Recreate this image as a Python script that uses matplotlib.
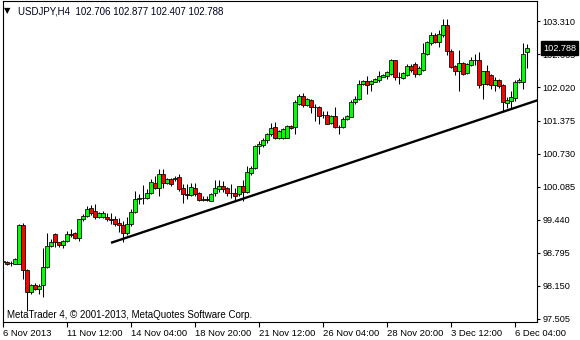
import numpy as np
import matplotlib
matplotlib.use("Agg")
import matplotlib.pyplot as plt
import matplotlib.transforms as mtransforms

# USDJPY H4 candles (oldest first)
opens = [
    98.62, 98.62, 98.60, 98.58, 98.58, 99.34, 98.46, 98.03, 98.17, 98.09,
    98.17, 98.52, 98.93, 99.17, 99.01, 98.94, 99.03, 99.17, 99.19, 99.09,
    99.45, 99.52, 99.66, 99.62, 99.49, 99.49, 99.50, 99.45, 99.45, 99.37,
    99.33, 99.18, 99.35, 99.60, 99.84, 99.86, 99.86, 99.96, 100.16, 100.06,
    100.33, 100.16, 100.23, 100.23, 100.27, 100.06, 99.94, 99.93, 100.06, 99.96,
    99.83, 99.84, 99.81, 99.96, 100.03, 100.09, 100.05, 99.96, 99.96, 99.94,
    100.09, 99.99, 100.36, 100.44, 100.88, 100.90, 100.99, 101.12, 101.24, 101.03,
    101.04, 101.04, 101.27, 101.24, 101.70, 101.86, 101.67, 101.78, 101.64, 101.64,
    101.48, 101.49, 101.32, 101.47, 101.24, 101.25, 101.40, 101.45, 101.73, 101.80,
    102.08, 102.14, 102.08, 102.12, 102.16, 102.23, 102.24, 102.29, 102.55, 102.22,
    102.20, 102.27, 102.43, 102.48, 102.29, 102.37, 102.68, 102.89, 103.04, 102.90,
    103.04, 103.24, 102.73, 102.43, 102.34, 102.50, 102.30, 102.45, 102.55, 102.55,
    102.09, 102.34, 102.26, 102.06, 102.16, 102.06, 101.71, 101.75, 101.82, 102.12,
    102.12, 102.706]
highs = [
    98.66, 98.64, 98.63, 98.70, 99.35, 99.37, 98.48, 98.19, 98.21, 98.19,
    98.88, 99.19, 99.07, 99.19, 99.01, 99.05, 99.23, 99.25, 99.21, 99.46,
    99.56, 99.70, 99.72, 99.74, 99.60, 99.62, 99.57, 99.57, 99.51, 99.47,
    99.41, 99.50, 99.64, 100.01, 99.94, 100.11, 100.03, 100.23, 100.29, 100.43,
    100.43, 100.25, 100.26, 100.29, 100.33, 100.13, 100.13, 100.15, 100.15, 99.99,
    99.90, 99.90, 99.96, 100.21, 100.21, 100.19, 100.07, 100.13, 100.06, 100.10,
    100.21, 100.49, 100.49, 100.89, 100.98, 101.04, 101.14, 101.32, 101.34, 101.19,
    101.23, 101.29, 101.29, 101.78, 101.89, 101.91, 101.82, 101.80, 101.70, 101.66,
    101.57, 101.57, 101.49, 101.63, 101.29, 101.44, 101.49, 101.78, 101.86, 102.17,
    102.17, 102.25, 102.16, 102.20, 102.34, 102.29, 102.35, 102.58, 102.56, 102.32,
    102.32, 102.47, 102.47, 102.52, 102.43, 102.88, 102.93, 103.10, 103.09, 103.14,
    103.36, 103.35, 102.77, 102.45, 102.75, 102.52, 102.49, 102.61, 102.68, 102.71,
    102.35, 102.45, 102.29, 102.22, 102.19, 102.09, 101.83, 101.96, 102.16, 102.20,
    102.88, 102.877]
lows = [
    98.56, 98.56, 98.54, 98.57, 98.57, 98.29, 97.66, 97.99, 98.07, 97.99,
    97.93, 98.50, 98.91, 98.91, 98.90, 98.88, 99.01, 99.11, 99.07, 99.03,
    99.41, 99.50, 99.54, 99.45, 99.47, 99.47, 99.41, 99.35, 99.31, 99.21,
    99.01, 99.15, 99.31, 99.57, 99.74, 99.74, 99.84, 99.94, 100.03, 99.90,
    100.06, 100.13, 100.10, 100.19, 100.00, 99.76, 99.84, 99.90, 99.90, 99.80,
    99.80, 99.80, 99.80, 99.90, 99.99, 99.98, 99.90, 99.86, 99.80, 99.90,
    99.80, 99.96, 100.32, 100.42, 100.72, 100.85, 100.94, 101.08, 101.01, 101.01,
    101.01, 101.03, 101.21, 101.11, 101.67, 101.63, 101.65, 101.53, 101.36, 101.31,
    101.43, 101.31, 101.30, 101.23, 101.12, 101.23, 101.39, 101.44, 101.70, 101.78,
    102.06, 101.89, 101.96, 102.12, 102.12, 102.22, 102.19, 102.26, 102.16, 102.09,
    102.19, 102.25, 102.32, 102.22, 102.26, 102.35, 102.65, 102.84, 102.88, 102.81,
    103.01, 102.65, 102.39, 102.26, 101.95, 102.26, 102.29, 102.43, 102.45, 102.01,
    101.80, 102.06, 101.99, 101.96, 102.01, 101.57, 101.62, 101.60, 101.76, 102.10,
    101.99, 102.407]
closes = [
    98.63, 98.58, 98.60, 98.68, 99.34, 98.46, 98.03, 98.17, 98.09, 98.15,
    98.52, 98.93, 99.01, 99.01, 98.94, 99.03, 99.17, 99.15, 99.09, 99.45,
    99.52, 99.64, 99.58, 99.49, 99.57, 99.58, 99.45, 99.44, 99.35, 99.33,
    99.18, 99.35, 99.60, 99.84, 99.86, 99.87, 99.96, 100.18, 100.06, 100.33,
    100.16, 100.23, 100.13, 100.26, 100.04, 99.94, 99.93, 100.07, 99.94, 99.83,
    99.84, 99.82, 99.94, 100.05, 100.09, 100.03, 99.96, 99.97, 99.90, 100.09,
    99.99, 100.37, 100.45, 100.88, 100.92, 101.00, 101.12, 101.23, 101.04, 101.17,
    101.21, 101.27, 101.23, 101.73, 101.86, 101.67, 101.80, 101.63, 101.63, 101.47,
    101.48, 101.31, 101.47, 101.24, 101.24, 101.40, 101.47, 101.74, 101.80, 102.08,
    102.14, 102.07, 102.14, 102.18, 102.25, 102.27, 102.33, 102.55, 102.22, 102.22,
    102.30, 102.43, 102.37, 102.29, 102.39, 102.69, 102.90, 103.04, 102.90, 103.06,
    103.24, 102.73, 102.42, 102.35, 102.50, 102.29, 102.47, 102.56, 102.55, 102.06,
    102.34, 102.09, 102.06, 102.16, 102.04, 101.73, 101.78, 101.83, 102.12, 102.16,
    102.68, 102.788]

price_ticks = [97.505, 98.150, 98.795, 99.440, 100.085, 100.730,
               101.375, 102.020, 102.665, 103.310]
time_tick_bars = [0, 16, 32, 48, 64, 80, 96, 112, 128]
time_tick_labels = ["6 Nov 2013", "11 Nov 12:00", "14 Nov 04:00", "18 Nov 20:00",
                    "21 Nov 12:00", "26 Nov 04:00", "28 Nov 20:00", "3 Dec 12:00",
                    "6 Dec 04:00"]

# hand drawn trend line (bar index, price)
trend_bars = [27, 134]
trend_prices = [98.99, 101.78]

last_price = 102.788
header = "USDJPY,H4  102.706 102.877 102.407 102.788"
copyright_txt = "MetaTrader 4, \u00a9 2001-2013, MetaQuotes Software Corp."

plt.rcParams['font.family'] = ['Liberation Sans', 'DejaVu Sans']
FS = 6.8

W, H = 580, 340
fig = plt.figure(figsize=(W / 100, H / 100), dpi=100)
fig.patch.set_facecolor('white')

# plot frame in pixels
left, right, top, bottom = 2.7, 536.5, 0.5, 321.7
ax = fig.add_axes([left / W, 1 - bottom / H, (right - left) / W, (bottom - top) / H])

# pixel -> data mapping (4 px per bar, 51.28 px per yen)
x0, px_per_bar = 3, 4
ax.set_xlim((left - x0) / px_per_bar, (right - x0) / px_per_bar)
ref_price, ref_y, px_per_unit = 103.310, 21.3, 51.28
ax.set_ylim(ref_price - (bottom - ref_y) / px_per_unit,
            ref_price + (ref_y - top) / px_per_unit)

o = np.array(opens)
h = np.array(highs)
l = np.array(lows)
c = np.array(closes)
idx = np.arange(len(o))
up = c >= o

ax.vlines(idx, l, h, color='black', linewidth=0.75, zorder=2)
body_lo = np.minimum(o, c)
body_h = np.maximum(np.abs(c - o), 0.0005)
ax.bar(idx, body_h, bottom=body_lo, width=0.8,
       color=np.where(up, '#00ff00', '#ff0000'),
       edgecolor='black', linewidth=0.55, zorder=3)

ax.plot(trend_bars, trend_prices, color='black', linewidth=1.7,
        solid_capstyle='butt', zorder=4)

# axes styling
for s in ax.spines.values():
    s.set_linewidth(0.8)
    s.set_color('black')
ax.yaxis.tick_right()
ax.set_yticks(price_ticks)
ax.set_yticklabels([f"{v:.3f}" for v in price_ticks])
ax.tick_params(axis='y', direction='out', length=2.5, width=0.8, pad=2,
               labelsize=6.6, colors='black')
ax.set_xticks(time_tick_bars)
ax.set_xticklabels(time_tick_labels, ha='left')
ax.tick_params(axis='x', direction='out', length=3.5, width=0.8, pad=2,
               labelsize=FS, colors='black')

# current price marker on the price scale
trans = mtransforms.blended_transform_factory(ax.transAxes, ax.transData)
ax.text(1.012, last_price, f"{last_price:.3f}", transform=trans,
        ha='left', va='center', color='white', fontsize=6.6, clip_on=False,
        zorder=6,
        bbox=dict(boxstyle='square,pad=0.25', facecolor='black', edgecolor='black'))

# header and copyright
fig.text(4 / W, 1 - 11 / H, "\u25bc", fontsize=6, va='center', ha='left',
         family=['DejaVu Sans'])
fig.text(18 / W, 1 - 11 / H, header, fontsize=7, va='center', ha='left',
         color='#000020')
fig.text(7 / W, 1 - 315 / H, copyright_txt, fontsize=7, va='center', ha='left')

fig.savefig("out.png", dpi=100, facecolor='white')
